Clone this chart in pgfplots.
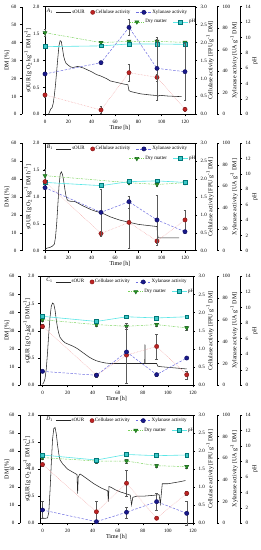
\documentclass[border=0pt]{standalone}
\usepackage{fontspec}
\setmainfont{Liberation Serif}
\usepackage{pgfplots}
\pgfplotsset{compat=1.18}
\usepackage{pgfplotstable}

\definecolor{cellM}{RGB}{190,35,35}
\definecolor{cellL}{RGB}{240,160,160}
\definecolor{xylM}{RGB}{25,25,140}
\definecolor{xylL}{RGB}{110,110,225}
\definecolor{dmM}{RGB}{40,150,40}
\definecolor{dmL}{RGB}{120,210,90}
\definecolor{phM}{RGB}{60,200,200}
\definecolor{phE}{RGB}{0,120,120}
\definecolor{phL}{RGB}{90,230,230}
\definecolor{errC}{RGB}{90,90,90}

\newcommand\lf{\fontsize{6}{6}\selectfont}
\tikzset{plab/.style={anchor=west, font=\fontsize{5.5}{5.5}\selectfont, inner sep=0pt}}

\pgfplotsset{
  every axis/.append style={
    scale only axis, anchor=south west, clip=false,
    tick align=outside, major tick length=2pt,
    tick label style={font=\fontsize{5}{5}\selectfont},
    /pgf/number format/assume math mode=true,
    axis line style={line width=0.4pt},
    every tick/.style={black, line width=0.4pt},
    legend image code/.code={\draw[mark repeat=2,mark phase=2,##1] plot coordinates {(0cm,0cm) (0.26cm,0cm) (0.52cm,0cm)};},
  },
  onedec/.style={yticklabel style={/pgf/number format/.cd,fixed,fixed zerofill,precision=1}},
  legrow/.style={legend cell align=left,
    legend style={draw=none, fill=none, font=\fontsize{5}{5}\selectfont, inner sep=0pt,
      nodes={inner sep=0.8pt}, anchor=north west,
      /tikz/every even column/.append style={column sep=5pt}}},
  mainax/.style={ymin=0, ymax=2, ytick={0,0.5,1,1.5,2}, onedec, xtick={0,20,...,120},
    xtick pos=bottom, ytick pos=left, xlabel={Time [h]},
    every axis x label/.style={at={(rel axis cs:0.5,0)}, yshift=-13.5pt, anchor=center, font=\lf},
    ylabel={sOUR [g O\textsubscript{2} kg\textsuperscript{-1} DM h\textsuperscript{-1}]},
    every axis y label/.style={at={(rel axis cs:0,0.5)}, xshift=#1, rotate=90, anchor=center, font=\lf},
    legend columns=3, legrow},
  cellax/.style={hide x axis, axis y line*=right, ymin=0, ymax=3, ytick={0,0.5,...,3}, onedec,
    ylabel={Cellulase activity [FPU g\textsuperscript{-1} DM]},
    every axis y label/.style={at={(rel axis cs:1,0.5)}, xshift=#1, rotate=90, anchor=center, font=\lf},
    legend columns=2, legrow},
  xylax/.style={hide x axis, axis y line*=right, ymin=0, ymax=100, ytick={0,20,...,100},
    ylabel={Xylanase activity [UA g\textsuperscript{-1} DM]},
    every axis y label/.style={at={(rel axis cs:1,0.5)}, xshift=17pt, rotate=90, anchor=center, font=\lf}},
  phax/.style={hide x axis, axis y line*=right, ymin=0, ymax=14, ytick={0,2,...,14},
    ylabel={pH},
    every axis y label/.style={at={(rel axis cs:1,0.5)}, xshift=15pt, rotate=90, anchor=center, font=\lf}},
  dmax/.style={hide x axis, axis y line*=left, ymin=0, ymax=60, ytick={0,10,...,60},
    ylabel={DM [\%]},
    every axis y label/.style={at={(rel axis cs:0,0.5)}, xshift=#1, rotate=90, anchor=center, font=\lf}},
  sourS/.style={black!85, line width=0.55pt, no markers},
  cellS/.style={draw=cellL, densely dotted, line width=0.5pt, mark=*, mark size=2.1pt,
    mark options={solid, fill=cellM, draw=cellM!70!black}},
  cellLeg/.style={only marks, mark=*, mark size=2.1pt, mark options={solid, fill=cellM, draw=cellM!70!black}},
  xylS/.style={draw=xylL, dash pattern=on 2.5pt off 1.5pt, line width=0.5pt, mark=*, mark size=2.1pt,
    mark options={solid, fill=xylM, draw=xylM!70!black}},
  dmS/.style={draw=dmL, dash pattern=on 2pt off 1pt on 0.5pt off 1pt, line width=0.5pt, mark=triangle*, mark size=2.3pt,
    mark options={solid, rotate=180, fill=dmM, draw=dmM!70!black}},
  phS/.style={draw=phL, solid, line width=0.6pt, mark=square*, mark size=1.9pt,
    mark options={fill=phM, draw=phE}},
  eb/.style={error bars/.cd, y dir=both, y explicit,
    error bar style={solid, line width=0.3pt, errC},
    error mark options={solid, rotate=90, mark size=1.3pt, line width=0.3pt, errC}, /pgfplots/.cd},
}

% ---------------- Panel A data ----------------
\pgfplotstableread{
t s
3 0.0
4 0.05
5 0.1
6 0.12
7 0.2
8 0.35
9 0.55
10 0.8
11 1.05
12 1.28
13 1.37
14 1.35
15 1.22
16 1.08
17 1.0
18 0.95
20 0.91
22 0.88
24 0.87
26 0.88
28 0.89
30 0.88
33 0.86
36 0.83
40 0.79
44 0.74
48 0.71
50 0.69
53 0.66
56 0.62
60 0.60
64 0.58
68 0.56
71 0.55
72 0.44
74 0.42
78 0.40
82 0.38
86 0.37
90 0.36
95 0.35
97 0.34
98 0.35
100 0.35
105 0.34
110 0.335
115 0.33
117 0.33
}\sourA
\pgfplotstableread{
t cell ce xyl xe dm de ph pe
0 0.54 0.05 37.5 1.5 45.5 2.0 8.8 0.1
48 0.12 0.10 48.0 1.5 40.0 0.8 8.9 0.1
72 1.16 0.23 80.8 7.7 40.7 0.8 9.15 0.1
96 1.03 0.10 42.7 29.4 40.7 1.0 9.15 0.1
120 0.14 0.05 39.6 26.6 40.1 0.8 9.1 0.1
}\ptsA

% ---------------- Panel B data ----------------
\pgfplotstableread{
t s
0 0.03
2 0.05
4 0.06
6 0.08
8 0.12
9 0.25
10 0.5
11 0.85
12 1.2
13 1.42
14 1.47
15 1.42
16 1.3
17 1.15
18 1.02
19 0.95
20 0.93
22 0.92
25 0.92
28 0.89
32 0.84
36 0.80
40 0.76
44 0.73
48 0.71
52 0.67
56 0.63
60 0.60
64 0.57
68 0.55
72 0.53
76 0.51
80 0.49
84 0.48
88 0.47
92 0.46
96 0.45
96.5 0.30
97 0.24
100 0.24
105 0.24
110 0.24
115 0.24
}\sourB
\pgfplotstableread{
t cell ce xyl xe dm de ph pe
0 1.93 0.05 58.7 1.0 41.9 3.5 8.9 0.1
48 0.48 0.05 35.7 21.7 nan 0 8.48 0.1
72 0.79 0.73 45.6 5.6 38.0 1.0 9.0 0.1
96 0.27 0.05 28.6 23.0 37.0 1.0 9.1 0.1
120 0.86 0.28 17.7 1.0 38.0 0.8 8.9 0.1
}\ptsB

% ---------------- Panel C data ----------------
\pgfplotstableread{
t s
0 0.02
1 0.05
2 0.12
3 0.3
4 0.6
5 0.95
6 1.25
7 1.45
8 1.51
9 1.49
10 1.38
11 1.2
12 1.05
13 0.95
14 0.88
16 0.82
18 0.78
20 0.76
22 0.74
25 0.71
28 0.67
31 0.62
34 0.57
37 0.52
40 0.48
43 0.45
46 0.43
50 0.41
54 0.40
60 0.40
70 0.40
80 0.40
81.5 0.40
81.7 0.75
81.9 0.40
90 0.40
91 0.40
92 0.35
95 0.34
100 0.33
105 0.32
110 0.31
115 0.30
}\sourC
\pgfplotstableread{
t cell ce xyl xe dm de ph pe
0 1.62 0.05 12.8 1.0 36.1 0.8 8.86 0.1
43 0.28 0.03 9.2 1.5 33.4 1.0 8.2 0.1
67 0.83 0.78 30.6 1.0 32.5 1.5 8.8 0.1
91 1.07 0.35 9.8 1.0 33.4 1.0 8.65 0.1
115 0.29 0.11 25.0 1.0 31.6 1.0 8.8 0.1
}\ptsC

% ---------------- Panel D data ----------------
\pgfplotstableread{
t s
0 0.10
2 0.09
4 0.10
5 0.2
6 0.6
7 1.1
8 1.55
9 1.75
10 1.77
11 1.65
12 1.45
13 1.28
14 1.17
16 1.10
18 1.05
20 1.00
23 0.96
26 0.92
27.5 0.90
28 0.55
28.5 0.85
29.5 0.90
30 0.91
32 0.88
35 0.83
38 0.78
41 0.73
44 0.69
47 0.65
50 0.62
52 0.60
52.5 0.40
53 0.68
55 0.66
58 0.62
62 0.58
66 0.55
70 0.52
71 0.34
72 0.48
75 0.50
80 0.50
85 0.51
90 0.52
93 0.53
94 0.36
95.5 0.73
100 0.73
105 0.75
110 0.77
114 0.79
}\sourD
\pgfplotstableread{
t cell ce xyl xe dm de ph pe
0 1.63 0.05 12.3 7.7 36.4 1.0 8.83 0.1
43 0.32 0.28 1.5 1.5 34.5 1.0 8.18 0.1
67 1.11 0.37 10.2 5.0 34.5 1.0 8.9 0.1
91 0.14 0.03 20.0 7.7 31.9 0.8 8.74 0.1
115 0.83 0.05 9.2 11.0 31.4 0.8 8.83 0.1
}\ptsD

\begin{document}
\begin{tikzpicture}
\useasboundingbox (0,0) rectangle (261pt,550pt);

% ===================== Panel A =====================
\begin{axis}[at={(45pt,435.7pt)}, width=150pt, height=107.6pt, xmin=0, xmax=128.57, mainax=-17pt,
  legend style={at={(rel axis cs:0.073,0.98)}}]
\addplot[sourS] table[x=t,y=s] {\sourA}; \addlegendentry{sOUR}
\addlegendimage{cellLeg}\addlegendentry{Cellulase activity}
\addlegendimage{xylS}\addlegendentry{Xylanase activity}
\node[plab] at (rel axis cs:0.012,0.96) {\textit{A}\textsubscript{1}};
\end{axis}
\begin{axis}[at={(22pt,435.7pt)}, width=173pt, height=107.6pt, xmin=-19.71, xmax=128.57, dmax=-15pt]
\addplot[dmS, eb] table[x=t,y=dm,y error=de] {\ptsA};
\end{axis}
\begin{axis}[at={(45pt,435.7pt)}, width=195pt, height=107.6pt, xmin=0, xmax=167.14, phax]
\addplot[phS, eb] table[x=t,y=ph,y error=pe] {\ptsA};
\end{axis}
\begin{axis}[at={(45pt,435.7pt)}, width=150pt, height=107.6pt, xmin=0, xmax=128.57, cellax=15pt,
  legend style={at={(rel axis cs:0.56,0.89)}}]
\addplot[forget plot, cellS, eb] table[x=t,y=cell,y error=ce] {\ptsA};
\addlegendimage{dmS}\addlegendentry{Dry matter}
\addlegendimage{phS}\addlegendentry{pH}
\end{axis}
\begin{axis}[at={(45pt,435.7pt)}, width=172pt, height=107.6pt, xmin=0, xmax=147.43, xylax]
\addplot[xylS, eb] table[x=t,y=xyl,y error=xe] {\ptsA};
\end{axis}

% ===================== Panel B =====================
\begin{axis}[at={(45pt,299.3pt)}, width=150pt, height=107.4pt, xmin=0, xmax=128.57, mainax=-17pt,
  legend style={at={(rel axis cs:0.073,0.98)}}]
\addplot[sourS] table[x=t,y=s] {\sourB}; \addlegendentry{sOUR}
\addlegendimage{cellLeg}\addlegendentry{Cellulase activity}
\addlegendimage{xylS}\addlegendentry{Xylanase activity}
\node[plab] at (rel axis cs:0.012,0.96) {\textit{B}\textsubscript{1}};
\end{axis}
\begin{axis}[at={(22pt,299.3pt)}, width=173pt, height=107.4pt, xmin=-19.71, xmax=128.57, dmax=-15pt]
\addplot[dmS, eb] table[x=t,y=dm,y error=de] {\ptsB};
\end{axis}
\begin{axis}[at={(45pt,299.3pt)}, width=195pt, height=107.4pt, xmin=0, xmax=167.14, phax]
\addplot[phS, eb] table[x=t,y=ph,y error=pe] {\ptsB};
\end{axis}
\begin{axis}[at={(45pt,299.3pt)}, width=150pt, height=107.4pt, xmin=0, xmax=128.57, cellax=15pt,
  legend style={at={(rel axis cs:0.56,0.89)}}]
\addplot[forget plot, cellS, eb] table[x=t,y=cell,y error=ce] {\ptsB};
\addlegendimage{dmS}\addlegendentry{Dry matter}
\addlegendimage{phS}\addlegendentry{pH}
\end{axis}
\begin{axis}[at={(45pt,299.3pt)}, width=172pt, height=107.4pt, xmin=0, xmax=147.43, xylax]
\addplot[xylS, eb] table[x=t,y=xyl,y error=xe] {\ptsB};
\end{axis}

% ===================== Panel C =====================
\begin{axis}[at={(40pt,164.7pt)}, width=153pt, height=109pt, xmin=-2, xmax=120, mainax=-13pt,
  legend style={at={(rel axis cs:0.1,0.98)}}]
\addplot[sourS] table[x=t,y=s] {\sourC}; \addlegendentry{sOUR}
\addlegendimage{cellLeg}\addlegendentry{Cellulase activity}
\addlegendimage{xylS}\addlegendentry{Xylanase activity}
\node[plab] at (rel axis cs:0.04,0.96) {\textit{C}\textsubscript{1}};
\end{axis}
\begin{axis}[at={(20pt,164.7pt)}, width=173pt, height=109pt, xmin=-17.95, xmax=120, dmax=-13pt]
\addplot[dmS, eb] table[x=t,y=dm,y error=de] {\ptsC};
\end{axis}
\begin{axis}[at={(40pt,164.7pt)}, width=200pt, height=109pt, xmin=-2, xmax=157.48, phax]
\addplot[phS, eb] table[x=t,y=ph,y error=pe] {\ptsC};
\end{axis}
\begin{axis}[at={(40pt,164.7pt)}, width=153pt, height=109pt, xmin=-2, xmax=120, cellax=17pt,
  legend style={at={(rel axis cs:0.575,0.89)}}]
\addplot[forget plot, cellS, eb] table[x=t,y=cell,y error=ce] {\ptsC};
\addlegendimage{dmS}\addlegendentry{Dry matter}
\addlegendimage{phS}\addlegendentry{pH}
\end{axis}
\begin{axis}[at={(40pt,164.7pt)}, width=177pt, height=109pt, xmin=-2, xmax=139.14, xylax]
\addplot[xylS, eb] table[x=t,y=xyl,y error=xe] {\ptsC};
\end{axis}

% ===================== Panel D =====================
\begin{axis}[at={(40pt,26.7pt)}, width=153pt, height=108.3pt, xmin=-2, xmax=120, mainax=-13pt,
  legend style={at={(rel axis cs:0.1,0.98)}}]
\addplot[sourS] table[x=t,y=s] {\sourD}; \addlegendentry{sOUR}
\addlegendimage{cellLeg}\addlegendentry{Cellulase activity}
\addlegendimage{xylS}\addlegendentry{Xylanase activity}
\node[plab] at (rel axis cs:0.04,0.96) {\textit{D}\textsubscript{1}};
\end{axis}
\begin{axis}[at={(20pt,26.7pt)}, width=173pt, height=108.3pt, xmin=-17.95, xmax=120, dmax=-13pt]
\addplot[dmS, eb] table[x=t,y=dm,y error=de] {\ptsD};
\end{axis}
\begin{axis}[at={(40pt,26.7pt)}, width=200pt, height=108.3pt, xmin=-2, xmax=157.48, phax]
\addplot[phS, eb] table[x=t,y=ph,y error=pe] {\ptsD};
\end{axis}
\begin{axis}[at={(40pt,26.7pt)}, width=153pt, height=108.3pt, xmin=-2, xmax=120, cellax=17pt,
  legend style={at={(rel axis cs:0.575,0.89)}}]
\addplot[forget plot, cellS, eb] table[x=t,y=cell,y error=ce] {\ptsD};
\addlegendimage{dmS}\addlegendentry{Dry matter}
\addlegendimage{phS}\addlegendentry{pH}
\end{axis}
\begin{axis}[at={(40pt,26.7pt)}, width=177pt, height=108.3pt, xmin=-2, xmax=139.14, xylax]
\addplot[xylS, eb] table[x=t,y=xyl,y error=xe] {\ptsD};
\end{axis}
\end{tikzpicture}
\end{document}
